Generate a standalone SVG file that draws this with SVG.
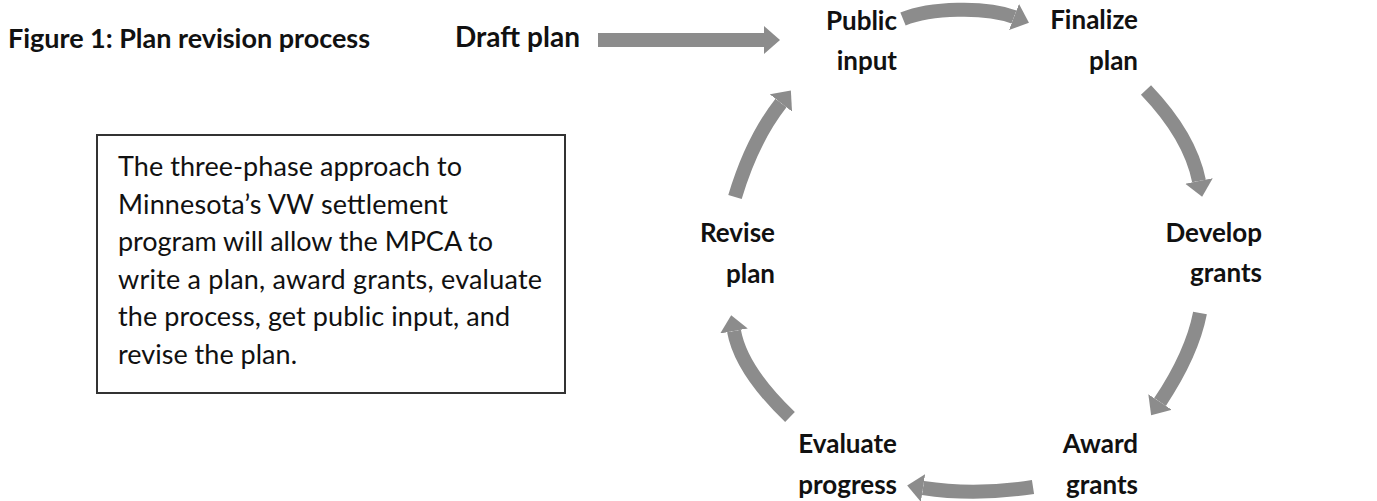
<svg xmlns="http://www.w3.org/2000/svg" width="1377" height="501" viewBox="0 0 1377 501">
<style>
.t{font-family:Lato,"Open Sans","Liberation Sans",sans-serif;fill:#111}
.b{font-weight:bold}
.lbl{font-size:26px;font-weight:bold}
.body{font-size:27px}
.arr{fill:none;stroke:#8c8c8c;stroke-width:14}
</style>
<defs>
<marker id="ah" viewBox="0 0 16 28" markerWidth="16" markerHeight="28" refX="0" refY="14" orient="auto" markerUnits="userSpaceOnUse">
<path d="M0,0 L16,14 L0,28 z" fill="#8c8c8c"/>
</marker>
</defs>
<rect width="1377" height="501" fill="#fff"/>
<g id="title"><text class="t b" x="8" y="48" font-size="27" textLength="362">Figure 1: Plan revision process</text></g>
<g id="draft"><text class="t b" x="455" y="47" font-size="28" textLength="125">Draft plan</text></g>
<g id="desc">
<rect x="97" y="135" width="468" height="258" fill="none" stroke="#333" stroke-width="2"/>
<text class="t body" x="118" y="176" textLength="344">The three-phase approach to</text>
<text class="t body" x="118" y="213.5" textLength="330">Minnesota’s VW settlement</text>
<text class="t body" x="118" y="251" textLength="375">program will allow the MPCA to</text>
<text class="t body" x="118" y="288.5" textLength="424">write a plan, award grants, evaluate</text>
<text class="t body" x="118" y="326" textLength="392">the process, get public input, and</text>
<text class="t body" x="118" y="363.5" textLength="179">revise the plan.</text>
</g>
<g id="public"><text class="t lbl" text-anchor="end" x="897" y="30">Public</text><text class="t lbl" text-anchor="end" x="897" y="70">input</text></g>
<g id="finalize"><text class="t lbl" text-anchor="end" x="1138" y="29">Finalize</text><text class="t lbl" text-anchor="end" x="1138" y="70">plan</text></g>
<g id="develop"><text class="t lbl" text-anchor="end" x="1262" y="242">Develop</text><text class="t lbl" text-anchor="end" x="1262" y="282">grants</text></g>
<g id="award"><text class="t lbl" text-anchor="end" x="1138" y="453">Award</text><text class="t lbl" text-anchor="end" x="1138" y="494">grants</text></g>
<g id="evaluate"><text class="t lbl" text-anchor="end" x="897" y="453">Evaluate</text><text class="t lbl" text-anchor="end" x="897" y="494">progress</text></g>
<g id="revise"><text class="t lbl" text-anchor="end" x="775" y="242">Revise</text><text class="t lbl" text-anchor="end" x="775" y="283">plan</text></g>
<g id="connectors">
<path class="arr" d="M598,40 L764,40" marker-end="url(#ah)"/>
<path class="arr" d="M903,19 C930,8 985,6 1014,17" marker-end="url(#ah)"/>
<path class="arr" d="M1146,90 Q1190,136 1199,181" marker-end="url(#ah)"/>
<path class="arr" d="M1200,313 Q1192,354 1160,402" marker-end="url(#ah)"/>
<path class="arr" d="M1033,487 Q975,496 923,488" marker-end="url(#ah)"/>
<path class="arr" d="M790,417 Q741,370 734,331" marker-end="url(#ah)"/>
<path class="arr" d="M735,197 Q752,140 781,103" marker-end="url(#ah)"/>
</g>
</svg>
